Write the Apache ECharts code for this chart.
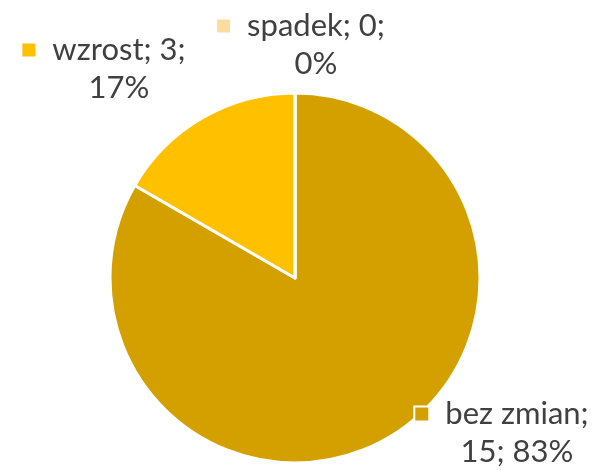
<!DOCTYPE html>
<html>
<head>
<meta charset="utf-8">
<script src="https://cdn.jsdelivr.net/npm/echarts@6/dist/echarts.min.js"></script>
<style>
	html, body { margin: 0; padding: 0; background: #fff; }
	#main { width: 597px; height: 470px; }
</style>
</head>
<body>
<div id="main"></div>
<script>
	// dane
	var categories = ['bez zmian', 'wzrost', 'spadek'];
	var values = [15, 3, 0];
	var colors = ['#D4A000', '#FFC000', '#FFDBA0'];

	// polozenie etykiet (srodek bloku)
	var labelPos = [[502, 433], [104, 69], [301, 45]];

	var rich = {
		t: { color: '#404040', fontSize: 31, fontFamily: 'Lato', lineHeight: 38 },
		g: { width: 17 },
		sp: { width: 30 }
	};
	colors.forEach(function (c, i) {
		rich['m' + i] = { width: 13, height: 13, backgroundColor: c, borderColor: '#ffffff', borderWidth: 2 };
	});

	var myChart = echarts.init(document.getElementById('main'));
	var option = {
		backgroundColor: '#ffffff',
		animation: false,
		color: colors,
		series: [{
			type: 'pie',
			center: [295, 278],
			radius: [0, 185],
			startAngle: 90,
			clockwise: true,
			percentPrecision: 0,
			stillShowZeroSum: true,
			itemStyle: { borderColor: '#ffffff', borderWidth: 3 },
			label: {
				show: true,
				position: 'outside',
				alignTo: 'none',
				overflow: 'none',
				align: 'center',
				formatter: function (p) {
					var l1, l2;
					// dluzsza nazwa lamie sie po nazwie
					if (p.name.indexOf(' ') >= 0) {
						l1 = p.name + ';';
						l2 = p.value + '; ' + p.percent + '%';
					} else {
						l1 = p.name + '; ' + p.value + ';';
						l2 = p.percent + '%';
					}
					return '{m' + p.dataIndex + '|}{g|}{t|' + l1 + '}\n{sp|}{t|' + l2 + '}';
				},
				rich: rich
			},
			labelLine: { show: false },
			labelLayout: function (params) {
				var pos = labelPos[params.dataIndex];
				return { x: pos[0], y: pos[1], align: 'center', verticalAlign: 'middle', hideOverlap: false };
			},
			data: categories.map(function (name, i) {
				return { name: name, value: values[i] };
			})
		}]
	};
	myChart.setOption(option, true);
</script>
</body>
</html>
